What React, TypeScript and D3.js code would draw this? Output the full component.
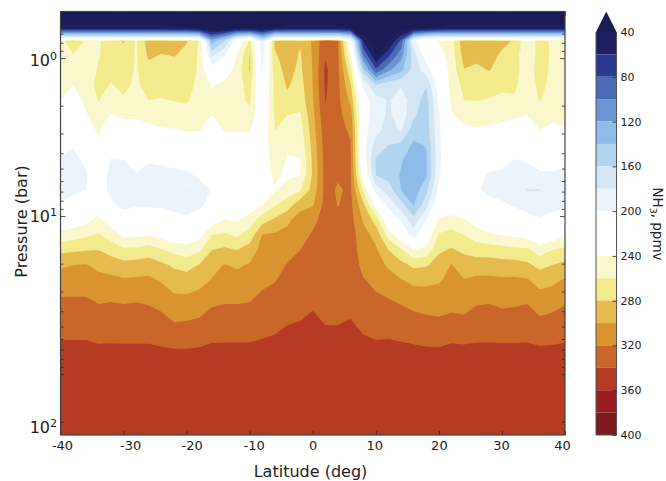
import { useEffect, useRef } from 'react';
import * as d3 from 'd3';

const width = 666;
const height = 481;

const latitudes = d3.range(-40, 41, 2);
const pressures = [0.507, 0.646, 0.764, 0.78, 0.957, 1.19, 1.48, 1.84, 2.29, 2.86, 3.55, 4.42, 5.5, 6.84, 8.5, 10.6, 13.2, 16.4, 20.4, 25.4, 34, 49, 70.5, 243];

// NH3 profile (ppmv) at each latitude, top of the atmosphere first
const nh3ByLat = [
  [20,45,225,250,250,248,245,240,225,212,203,199,194,195,201,222,247,275,297,309,322,334,344,352],
  [20,45,225,282,258,252,240,228,215,205,201,196,194,197,206,228,251,277,300,310,322,334,344,352],
  [20,45,225,256,255,254,250,245,238,225,212,203,198,200,210,233,257,279,301,310,322,334,344,352],
  [20,45,225,258,259,261,265,261,252,244,235,222,212,210,226,246,262,280,295,306,318,331,343,352],
  [20,45,225,268,266,264,259,249,239,225,210,199,194,195,205,228,252,272,291,305,319,332,343,352],
  [20,45,225,282,272,268,264,258,243,232,215,200,194,179,193,214,237,264,287,302,318,331,343,352],
  [20,45,225,258,258,258,257,254,243,232,218,206,199,192,198,214,236,265,288,303,319,331,343,352],
  [20,45,225,291,284,272,267,260,246,236,220,202,192,190,197,215,240,270,290,304,317,331,343,352],
  [20,45,225,291,279,271,267,259,248,238,222,204,194,190,197,212,232,262,284,298,313,328,342,352],
  [20,44,225,288,281,272,267,261,250,239,224,206,195,189,194,207,226,254,277,290,305,322,341,352],
  [20,42,225,281,276,272,268,263,251,241,226,208,197,179,190,205,226,249,273,288,305,323,341,352],
  [20,35,220,258,257,257,254,250,245,241,228,213,203,193,197,208,233,256,281,293,308,325,342,352],
  [20,25,120,130,175,212,238,245,240,228,219,210,205,201,205,228,260,280,293,301,316,330,344,352],
  [20,28,150,160,198,225,246,252,250,241,232,222,215,213,222,241,263,284,301,308,318,331,344,352],
  [20,36,205,215,240,248,252,253,248,241,233,224,219,219,227,238,257,280,297,307,318,331,344,352],
  [20,38,225,265,281,282,268,264,254,241,234,226,222,222,228,249,269,289,302,309,319,331,344,352],
  [20,32,165,178,190,197,207,214,220,224,226,226,228,232,240,272,301,307,311,316,324,334,345,352],
  [20,40,225,285,277,272,268,265,262,260,256,250,244,238,258,284,303,308,314,319,327,337,345,352],
  [20,45,225,298,292,286,282,276,260,250,244,238,236,249,270,296,306,314,321,326,332,340,346,352],
  [20,45,225,282,278,276,272,268,258,251,245,239,240,258,293,309,314,320,325,329,335,341,347,352],
  [20,45,225,303,302,301,300,298,295,291,287,284,283,288,298,315,322,326,329,332,337,344,348,352],
  [20,45,225,335,338,344,343,341,336,332,330,328,327,326,327,328,329,330,331,332,334,340,346,352],
  [20,45,225,322,323,324,325,325,325,325,325,324,322,318,319.5,323,326,328,330,331,334,340,346,352],
  [20,38,200,215,240,265,282,295,310,318,321,323,323,323,325,327,329,330,331,332,334,342,346,352],
  [20,18,55,60,100,150,195,210,208,208,208,212,225,258,285,298,307,310,315,321,328,337,345,352],
  [20,15,23,25,40,85,160,190,192,186,172,158,160,190,232,272,294,303,309,316,323,334,344,352],
  [20,18,32,35,75,115,172,178,176,172,160,150,152,170,194,218,252,280,297,308,321,334,345,352],
  [20,28,78,85,112,135,178,190,192,182,155,142,138,140,168,197,225,263,286,301,317,332,344,352],
  [20,34,185,195,172,168,172,170,163,150,136,127,124,128,139,168,190,240,276,295,312,330,343,352],
  [20,38,215,222,210,190,162,152,150,150,141,138,137,155,172,200,225,245,278,295,310,327,342,352],
  [20,42,225,242,230,220,210,203,198,195,195,195,198,204,222,243,262,277,288,298,310,325,342,352],
  [20,45,225,252,250,248,248,245,238,232,226,222,220,218,224,248,268,282,301,305,313,327,345,352],
  [20,45,225,295,288,279,265,260,248,236,225,217,212,208,214,242,260,276,290,301,312,326,344,352],
  [20,45,225,290,285,276,268,261,248,238,226,214,206,202,210,230,250,271,290,304,317,331,344,352],
  [20,45,225,292,287,281,267,259,250,236,220,208,198,196,205,220,244,270,290,304,318,331,344,352],
  [20,45,225,285,277,270,263,257,247,233,219,207,196,193,203,217,240,268,288,303,315,330,344,352],
  [20,45,225,278,272,268,263,258,243,231,215,199,190,188,198,213,237,265,288,303,316,330,344,352],
  [20,45,225,242,238,248,250,247,240,233,218,202,190,179,193,206,232,264,284,302,318,331,344,352],
  [20,45,225,270,272,270,265,261,247,240,220,208,197,179,190,202,222,250,274,292,309,326,343,352],
  [20,45,225,256,256,255,255,250,246,234,220,208,197,190,196,205,226,260,280,295,312,328,343,352],
  [20,45,225,256,256,255,254,252,247,238,220,205,196,192,197,208,237,266,285,302,317,331,344,352],
];

// contour levels, one colour per band above each level
const levels = d3.range(40, 400, 20);
const bandColors = [
  '#1c2060', '#2b3a90', '#4a6cb6', '#6c96d3', '#8fbce8', '#b0d5f1', '#d4e6f4', '#ecf4fb', '#ffffff',
  '#ffffff', '#faf7cd', '#f3ea8c', '#e6bb4d', '#d9942f', '#c9672a', '#b53b24', '#9b1d22', '#7c1a1e',
];
const underColor = '#1a1b55';

const latTicks = [-40, -30, -20, -10, 0, 10, 20, 30, 40];
const latLabelNudge = [1.5, 6.5, 5, 4, 0, -1.5, 0, -1, -3];
const pressureMajor = [1, 10, 100];
const pressureMinor = [0.6, 0.7, 0.8, 0.9, 2, 3, 4, 5, 6, 7, 8, 9, 20, 30, 40, 50, 60, 70, 80, 90, 200];
const pressureLabels = [
  { exp: '0', p: 1, dy: 2 },
  { exp: '1', p: 10, dy: 0 },
  { exp: '2', p: 100, dy: 53 },
];
const colorbarTicks = [40, 80, 120, 160, 200, 240, 280, 320, 360, 400];

const App = () => {
  const svgRef = useRef<SVGSVGElement | null>(null);

  useEffect(() => {
    const svg = d3.select(svgRef.current);
    svg.selectAll('*').remove();

    const left = 60.5;
    const right = 565;
    const top = 11.5;
    const bottom = 435;

    const x = d3.scaleLinear().domain([-40, 40]).range([left, right]);
    const y = d3.scaleLog().domain([0.507, 243]).range([top, bottom]);

    // fractional grid position -> pixel; rows are not evenly spaced in pressure
    const nx = latitudes.length;
    const ny = pressures.length;
    const colX = d3.scaleLinear().domain(d3.range(nx)).range(latitudes.map((d) => x(d)));
    const rowY = d3.scaleLinear().domain(d3.range(ny)).range(pressures.map((d) => y(d)));
    const gridPath = d3.geoPath(
      d3.geoTransform({
        point(px, py) {
          this.stream.point(
            colX(Math.max(0, Math.min(nx - 1, px - 0.5))),
            rowY(Math.max(0, Math.min(ny - 1, py - 0.5)))
          );
        },
      })
    );

    const values: number[] = [];
    for (let r = 0; r < ny; r++) {
      for (let c = 0; c < nx; c++) values.push(nh3ByLat[c][r]);
    }
    const contours = d3.contours().size([nx, ny]).thresholds(levels)(values);

    svg
      .append('rect')
      .attr('x', left)
      .attr('y', top)
      .attr('width', right - left)
      .attr('height', bottom - top)
      .attr('fill', underColor);

    svg
      .append('g')
      .selectAll('path')
      .data(contours)
      .join('path')
      .attr('d', (d) => gridPath(d))
      .attr('fill', (d, i) => bandColors[i]);

    // axes, all ticks point inward
    const axisColor = '#222';
    const styleAxis = (g) => {
      g.select('.domain').remove();
      g.selectAll('line').attr('stroke', axisColor).attr('stroke-width', 0.8);
    };

    const xBottom = svg
      .append('g')
      .attr('transform', `translate(0,${bottom})`)
      .call(
        d3
          .axisBottom(x)
          .tickValues(latTicks)
          .tickSize(-4)
          .tickPadding(6)
          .tickFormat((d) => String(d))
      );
    styleAxis(xBottom);
    xBottom
      .selectAll('text')
      .attr('dx', (d, i) => latLabelNudge[i])
      .attr('fill', '#222')
      .style('font', '13px "DejaVu Sans"');

    svg
      .append('g')
      .attr('transform', `translate(0,${top})`)
      .call(d3.axisTop(x).tickValues(latTicks).tickSize(-4).tickFormat(() => ''))
      .call(styleAxis);

    const sides = [
      { axis: d3.axisLeft, pos: left },
      { axis: d3.axisRight, pos: right },
    ];
    sides.forEach(({ axis, pos }) => {
      svg
        .append('g')
        .attr('transform', `translate(${pos},0)`)
        .call(axis(y).tickValues(pressureMajor.filter((p) => p < 100)).tickSize(-5).tickFormat(() => ''))
        .call(styleAxis);
      svg
        .append('g')
        .attr('transform', `translate(${pos},0)`)
        .call(axis(y).tickValues(pressureMinor.concat([100])).tickSize(-3).tickFormat(() => ''))
        .call(styleAxis);
    });

    svg
      .append('rect')
      .attr('x', left)
      .attr('y', top)
      .attr('width', right - left)
      .attr('height', bottom - top)
      .attr('fill', 'none')
      .attr('stroke', '#444')
      .attr('stroke-width', 1.2);

    const yLabels = svg
      .append('g')
      .selectAll('text')
      .data(pressureLabels)
      .join('text')
      .attr('x', 57)
      .attr('y', (d) => y(d.p) + d.dy + 6)
      .attr('text-anchor', 'end')
      .attr('fill', '#222')
      .style('font', '16px "DejaVu Sans"');
    yLabels.append('tspan').text('10');
    yLabels
      .append('tspan')
      .attr('dy', -6)
      .style('font-size', '11px')
      .text((d) => d.exp);

    svg
      .append('text')
      .attr('x', 310.5)
      .attr('y', 477)
      .attr('text-anchor', 'middle')
      .attr('fill', '#222')
      .style('font', '16px "DejaVu Sans"')
      .text('Latitude (deg)');

    svg
      .append('text')
      .attr('transform', 'translate(27,221.5) rotate(-90)')
      .attr('text-anchor', 'middle')
      .attr('fill', '#222')
      .style('font', '16px "DejaVu Sans"')
      .text('Pressure (bar)');

    // colour bar
    const barLeft = 596;
    const barRight = 616.5;
    const barY = d3.scaleLinear().domain([40, 400]).range([32, bottom]);

    svg
      .append('g')
      .selectAll('rect')
      .data(levels)
      .join('rect')
      .attr('x', barLeft)
      .attr('width', barRight - barLeft)
      .attr('y', (d) => barY(d))
      .attr('height', (d) => barY(d + 20) - barY(d))
      .attr('fill', (d, i) => bandColors[i]);

    const barOutline = d3.path();
    barOutline.moveTo(barLeft, barY(40));
    barOutline.lineTo((barLeft + barRight) / 2, top);
    barOutline.lineTo(barRight, barY(40));
    barOutline.closePath();
    svg.append('path').attr('d', barOutline.toString()).attr('fill', underColor);

    const barFrame = d3.path();
    barFrame.moveTo(barLeft, barY(40));
    barFrame.lineTo(barLeft, bottom);
    barFrame.lineTo(barRight, bottom);
    barFrame.lineTo(barRight, barY(40));
    svg
      .append('path')
      .attr('d', barFrame.toString())
      .attr('fill', 'none')
      .attr('stroke', '#555')
      .attr('stroke-width', 1);

    const barAxis = svg
      .append('g')
      .attr('transform', `translate(${barRight},0)`)
      .call(d3.axisRight(barY).tickValues(colorbarTicks).tickSize(-4).tickPadding(4));
    styleAxis(barAxis);
    barAxis.selectAll('text').attr('fill', '#222').style('font', '11px "DejaVu Sans"');

    const barTitle = svg
      .append('text')
      .attr('transform', 'translate(653,224) rotate(90)')
      .attr('text-anchor', 'middle')
      .attr('fill', '#222')
      .style('font', '13.5px "DejaVu Sans"');
    barTitle.append('tspan').text('NH');
    barTitle.append('tspan').attr('dy', 3).style('font-size', '9.5px').text('3');
    barTitle.append('tspan').attr('dy', -3).text(', ppmv');
  }, []);

  return (
    <svg
      ref={svgRef}
      width={width}
      height={height}
      style={{ position: 'absolute', left: 0, top: 0, background: '#fff' }}
    />
  );
};

export default App;
